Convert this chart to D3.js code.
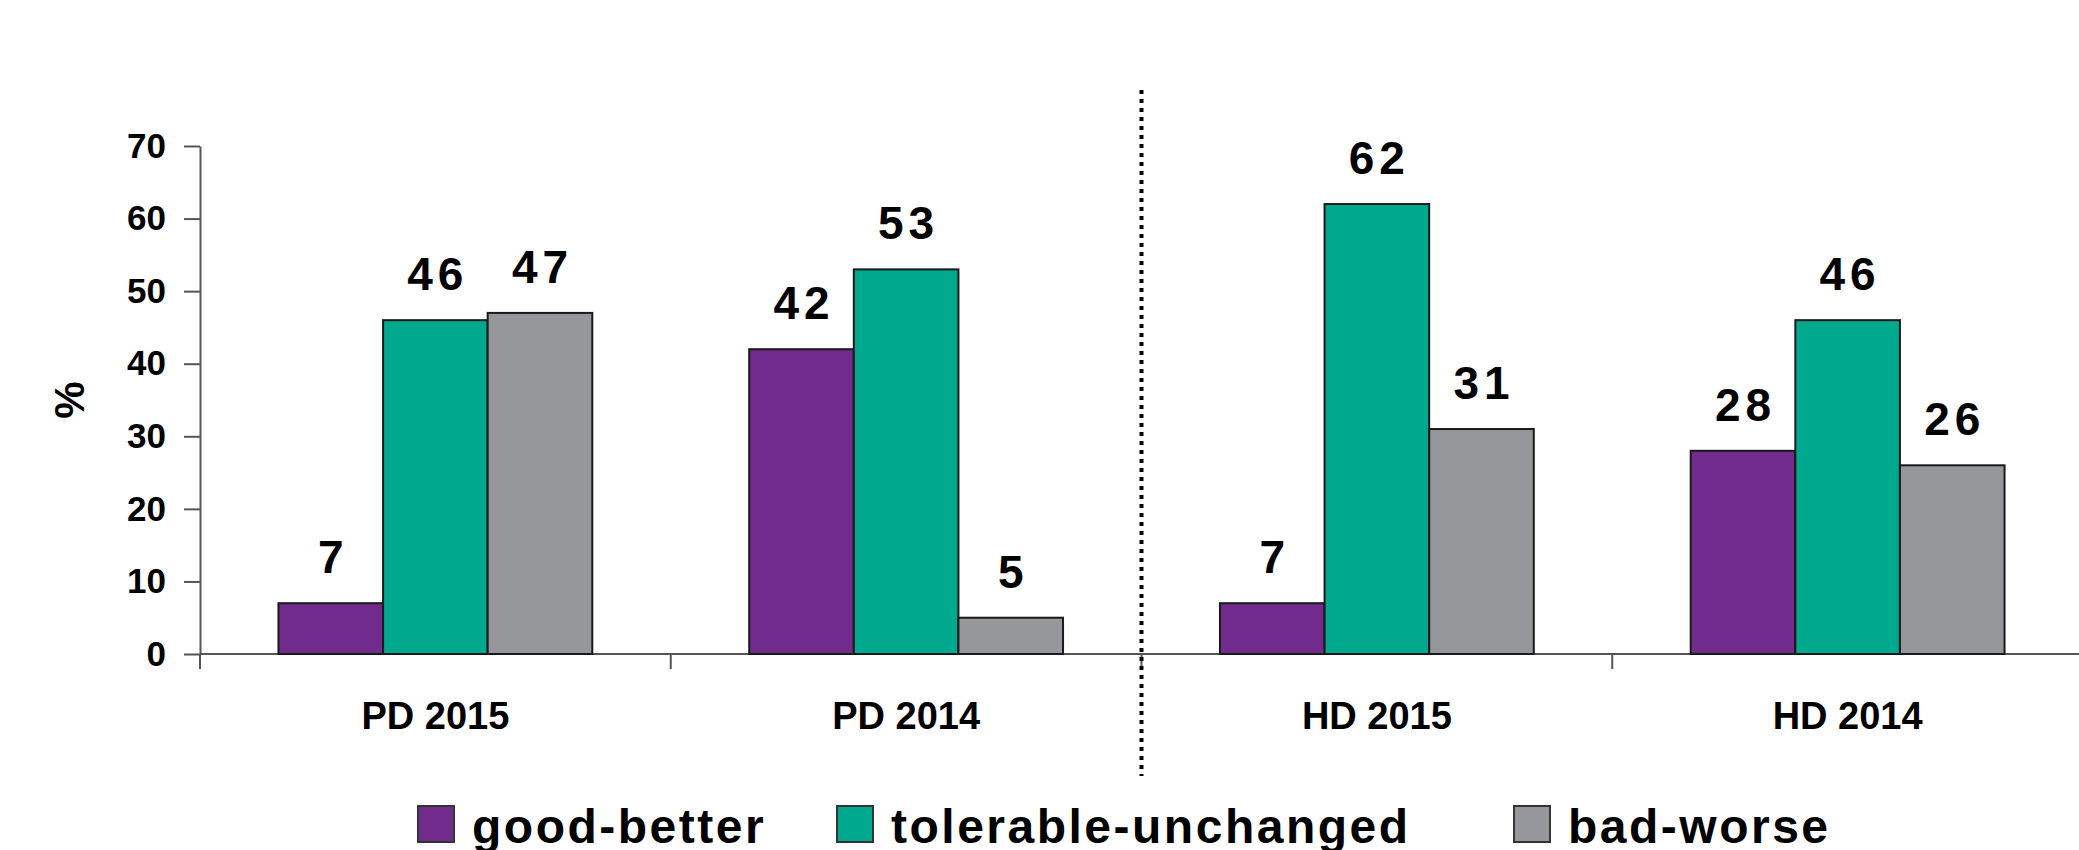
<!DOCTYPE html>
<html>
<head>
<meta charset="utf-8">
<script src="https://cdn.jsdelivr.net/npm/d3@7"></script>
<style>
  body { margin: 0; background: #fff; }
  text { font-family: "Liberation Sans", Arial, sans-serif; font-weight: bold; fill: #000; }
</style>
</head>
<body>
<div id="chart"></div>
<script>
// categories along the x axis and the three answer groups
let categories = ["PD 2015", "PD 2014", "HD 2015", "HD 2014"];
let series = ["good-better", "tolerable-unchanged", "bad-worse"];
let colors = ["#702b8c", "#00a88e", "#96979b"];

// percent values, one array per series (same order as categories)
let goodBetter = [7, 42, 7, 28];
let tolerableUnchanged = [46, 53, 62, 46];
let badWorse = [47, 5, 31, 26];

let yTicks = [0, 10, 20, 30, 40, 50, 60, 70];

let values = [goodBetter, tolerableUnchanged, badWorse];

let width = 2079, height = 850;
let svg = d3.select("#chart").append("svg")
  .attr("width", width)
  .attr("height", height);

// scales
let x0 = d3.scaleBand().domain(categories).range([200, 2083]).paddingInner(0).paddingOuter(0);
let x1 = d3.scaleBand().domain(series).range([0, x0.bandwidth()]).paddingInner(0).paddingOuter(0.75);
let y = d3.scaleLinear().domain([0, 70]).range([654, 146]);

// y axis
let yAxis = d3.axisLeft(y).tickValues(yTicks).tickSize(16).tickSizeOuter(0).tickPadding(18);
let gy = svg.append("g")
  .attr("transform", "translate(200,0)")
  .call(yAxis);
gy.select(".domain").attr("stroke", "#555").attr("stroke-width", 2);
gy.selectAll(".tick line").attr("stroke", "#555").attr("stroke-width", 2);
gy.selectAll(".tick text")
  .style("font-size", "35px")
  .style("font-weight", "bold")
  .attr("fill", "#000");

// % label
svg.append("text")
  .attr("transform", "translate(84,400) rotate(-90)")
  .attr("text-anchor", "middle")
  .style("font-size", "42px")
  .text("%");

// x axis: baseline and boundary ticks
let gx = svg.append("g").attr("transform", `translate(0,${y(0)})`);
gx.append("line")
  .attr("x1", x0(categories[0])).attr("x2", width)
  .attr("stroke", "#555").attr("stroke-width", 2);

let bounds = categories.map(c => x0(c)).concat([x0(categories[categories.length - 1]) + x0.bandwidth()]);
gx.selectAll("line.bound")
  .data(bounds)
  .enter()
  .append("line")
  .attr("class", "bound")
  .attr("x1", d => d).attr("x2", d => d)
  .attr("y1", 0).attr("y2", 15)
  .attr("stroke", "#555").attr("stroke-width", 2);

// category labels
let xAxis = d3.axisBottom(x0).tickSize(0).tickSizeOuter(0);
let gl = svg.append("g").attr("transform", `translate(0,${y(0)})`).call(xAxis);
gl.select(".domain").remove();
gl.selectAll(".tick text")
  .attr("y", 75)
  .attr("dy", 0)
  .attr("fill", "#000")
  .style("font-size", "38px")
  .style("font-weight", "bold");

// bars
let groups = svg.append("g")
  .selectAll("g")
  .data(categories)
  .enter()
  .append("g")
  .attr("transform", d => `translate(${x0(d)},0)`);

groups.selectAll("rect")
  .data((c, ci) => series.map((s, si) => ({ s: s, si: si, v: values[si][ci] })))
  .enter()
  .append("rect")
  .attr("x", d => x1(d.s))
  .attr("y", d => y(d.v))
  .attr("width", x1.bandwidth())
  .attr("height", d => y(0) - y(d.v))
  .attr("fill", d => colors[d.si])
  .attr("stroke", "#1a1a1a")
  .attr("stroke-width", 2);

// value labels
let spacing = 5;
groups.selectAll("text.val")
  .data((c, ci) => series.map((s, si) => ({ s: s, si: si, v: values[si][ci] })))
  .enter()
  .append("text")
  .attr("class", "val")
  .attr("x", d => x1(d.s) + x1.bandwidth() / 2 + spacing / 2)
  .attr("y", d => y(d.v) - 30)
  .attr("text-anchor", "middle")
  .style("font-size", "46px")
  .style("letter-spacing", spacing + "px")
  .text(d => d.v);

// dotted divider between PD and HD
svg.append("line")
  .attr("x1", x0("HD 2015")).attr("x2", x0("HD 2015"))
  .attr("y1", 90).attr("y2", 776)
  .attr("stroke", "#000")
  .attr("stroke-width", 4)
  .attr("stroke-dasharray", "4,5");

// legend
let legendX = [418, 837, 1514];
let legend = svg.append("g")
  .selectAll("g")
  .data(series)
  .enter()
  .append("g")
  .attr("transform", (d, i) => `translate(${legendX[i]},806)`);

legend.append("rect")
  .attr("width", 36).attr("height", 36)
  .attr("fill", (d, i) => colors[i])
  .attr("stroke", "#333").attr("stroke-width", 2);

legend.append("text")
  .attr("x", 54)
  .attr("y", 37)
  .style("font-size", "48px")
  .style("letter-spacing", "2.5px")
  .text(d => d);
</script>
</body>
</html>
